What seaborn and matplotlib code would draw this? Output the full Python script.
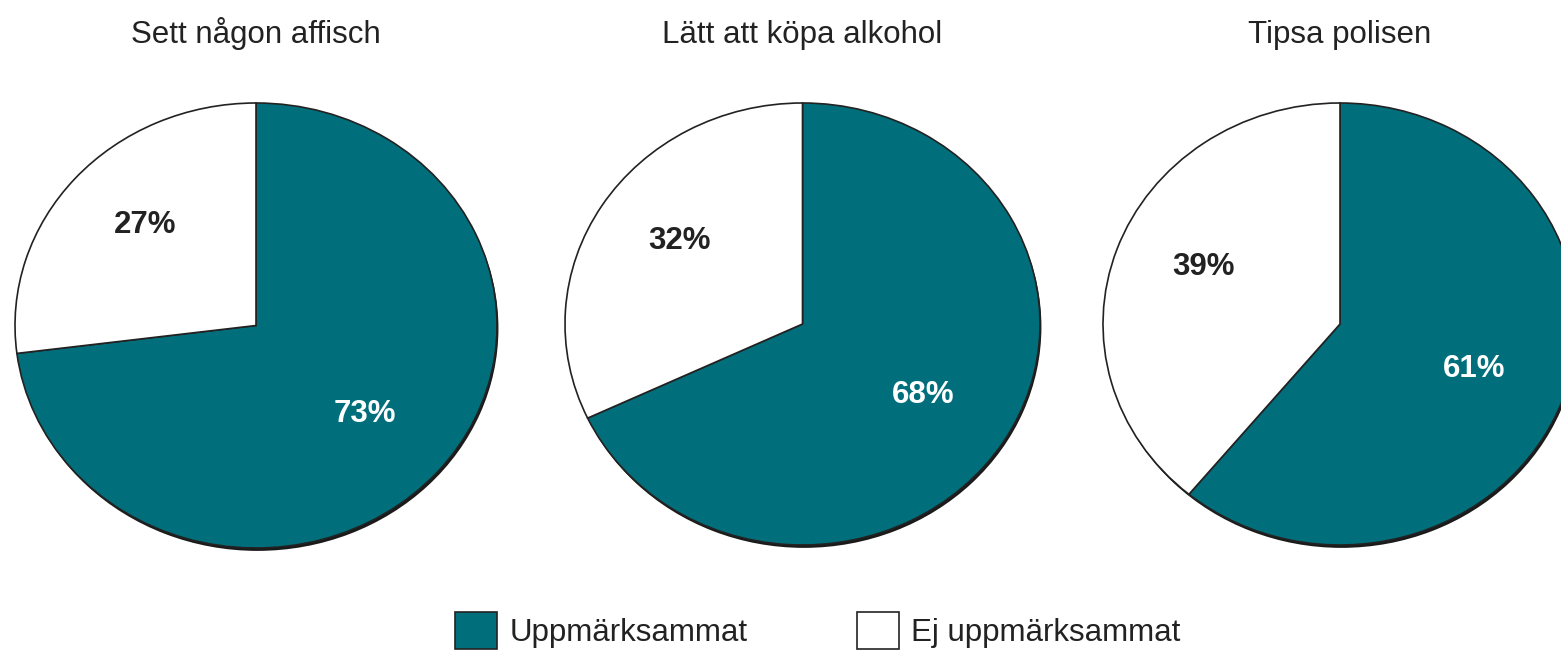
import matplotlib
matplotlib.use("Agg")
import matplotlib.pyplot as plt
from matplotlib.patches import Patch
import seaborn as sns

sns.set_theme(style="white")
plt.rcParams['font.family'] = ['Liberation Sans', 'DejaVu Sans']

titles = ["Sett någon affisch", "Lätt att köpa alkohol", "Tipsa polisen"]
noticed = [73, 68, 61]
not_noticed = [27, 32, 39]
legend_labels = ["Uppmärksammat", "Ej uppmärksammat"]

teal = "#016e7b"
W, H = 1561, 650
fig = plt.figure(figsize=(W / 100, H / 100), dpi=100)

# pixel boxes of each pie: (left, right, top, bottom)
boxes = [(15, 497, 103, 548), (565, 1040, 103, 545), (1103, 1577, 103, 545)]

for title, a, b, (l, r, t, btm) in zip(titles, noticed, not_noticed, boxes):
    ax = fig.add_axes([l / W, 1 - btm / H, (r - l) / W, (btm - t) / H])
    # subtle shadow
    ax.pie([1], colors=["#1a1a1a"], radius=1.0, center=(0.006, -0.013),
           wedgeprops=dict(linewidth=0))
    wedges, texts, autotexts = ax.pie(
        [a, b], colors=[teal, "white"], startangle=90, counterclock=False,
        autopct="%d%%", pctdistance=0.6,
        wedgeprops=dict(edgecolor="#222222", linewidth=1.2),
        textprops=dict(fontsize=22.5, fontweight="bold"))
    autotexts[0].set_color("white")
    autotexts[1].set_color("#222222")
    x1, y1 = autotexts[1].get_position()
    autotexts[1].set_position((x1 - 0.01, y1 + 0.055))
    ax.set_xlim(-1.0, 1.0)
    ax.set_ylim(-1.0, 1.0)
    ax.set_aspect("auto")
    ax.set_title(title, fontsize=22.5, color="#222222", pad=43)

handles = [Patch(facecolor=teal, edgecolor="#222222", linewidth=1.2),
           Patch(facecolor="white", edgecolor="#222222", linewidth=1.2)]
fig.legend(handles, legend_labels, loc="center", bbox_to_anchor=(0.524, 0.03),
           ncol=2, frameon=False, fontsize=22.5, handlelength=1.33,
           handleheight=1.45, handletextpad=0.4, columnspacing=3.5,
           labelcolor="#222222", borderpad=0.2)

fig.savefig("out.png", dpi=100)
